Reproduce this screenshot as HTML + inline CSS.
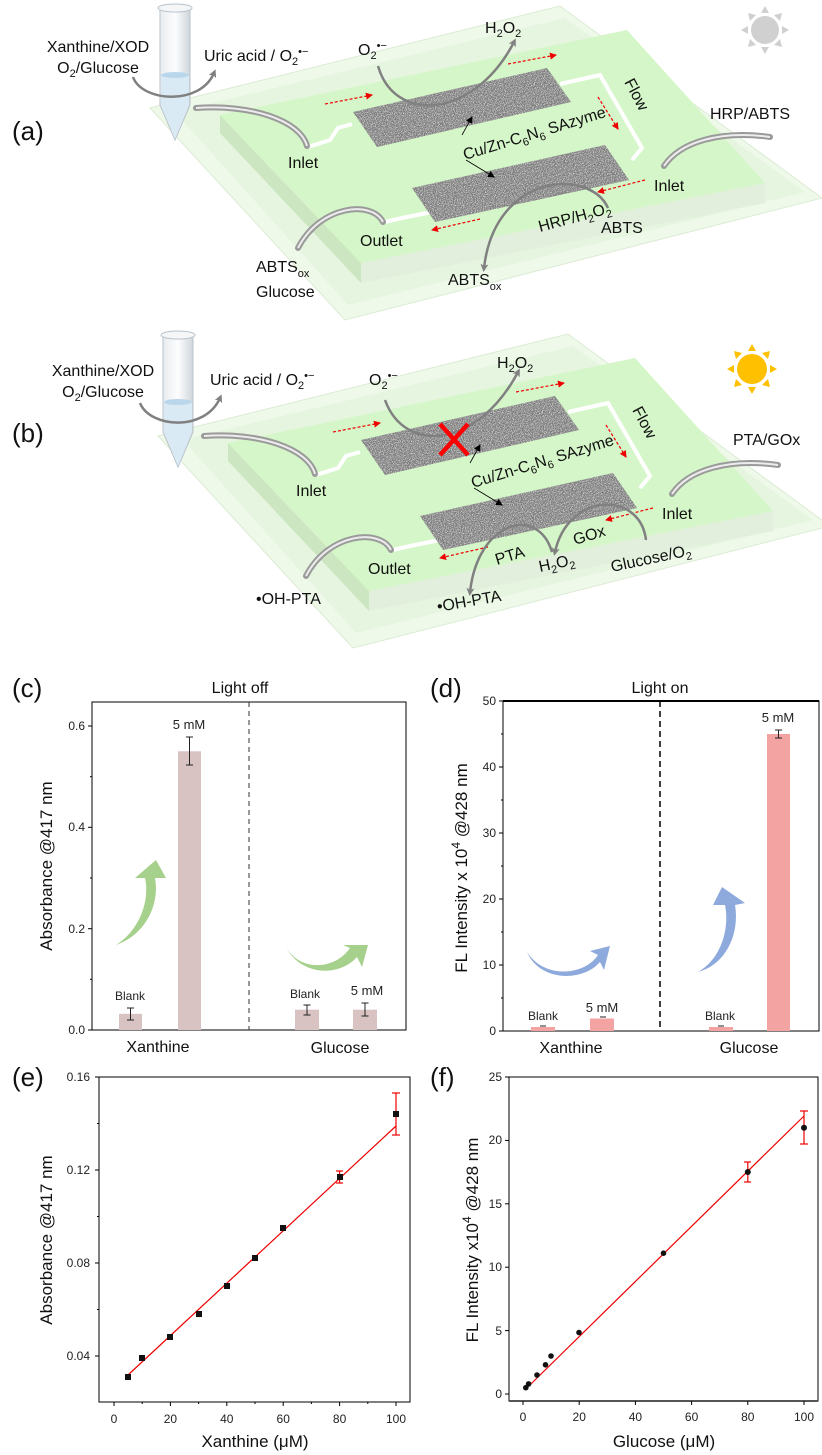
<!DOCTYPE html>
<html><head><meta charset="utf-8">
<style>
html,body{margin:0;padding:0;background:#fff;}
svg{display:block;font-family:"Liberation Sans",Arial,sans-serif;}
.l{font-size:16px;fill:#111;}
.t{font-size:12px;fill:#222;}
.ax{font-size:17px;fill:#111;}
</style></head><body>
<svg width="822" height="1455" viewBox="0 0 822 1455" xmlns="http://www.w3.org/2000/svg">
<defs>
<filter id="nz" x="0" y="0" width="1" height="1" filterUnits="objectBoundingBox">
<feTurbulence type="fractalNoise" baseFrequency="1.1" numOctaves="2" seed="3" result="n"/>
<feColorMatrix in="n" type="matrix" values="0 0 0 0 1  0 0 0 0 1  0 0 0 0 1  2.2 0 0 0 -0.9"/>
</filter>
<clipPath id="s1"><polygon points="353,112 547,68 571,102 377,147"/></clipPath>
<clipPath id="s2"><polygon points="412,188 605,145 629,180 435,222"/></clipPath>
<marker id="ga" markerWidth="8" markerHeight="8" refX="4" refY="4" orient="auto" markerUnits="userSpaceOnUse" viewBox="0 0 8 8"><path d="M0,0 L8,4 L0,8 L2,4z" fill="#808080"/></marker>
<marker id="ra" markerWidth="7" markerHeight="7" refX="6" refY="3.5" orient="auto" markerUnits="userSpaceOnUse"><path d="M0,0 L7,3.5 L0,7z" fill="#e00"/></marker>
<marker id="ka" markerWidth="7" markerHeight="7" refX="6" refY="3.5" orient="auto" markerUnits="userSpaceOnUse"><path d="M0,0 L7,3.5 L0,7z" fill="#000"/></marker>
<linearGradient id="tg" x1="0" x2="1"><stop offset="0" stop-color="#e8ecef"/><stop offset="0.5" stop-color="#fdfdfe"/><stop offset="1" stop-color="#cfd6dc"/></linearGradient>
<g id="chip">
<polygon points="150,108 560,6 822,198 345,320" fill="#eef9ea" stroke="#dcebd4"/>
<polygon points="175,112 565,18 805,192 348,305" fill="#e6f5df"/>
<polygon points="220,115 361,263 361,283 220,133" fill="#cde6c2"/>
<polygon points="361,263 765,183 765,203 361,283" fill="#e2efdc"/>
<polygon points="220,115 627,30 765,183 361,263" fill="#d5f6c8"/>
<polyline points="308,147 330,140 338,128 352,124" fill="none" stroke="#fff" stroke-width="4"/>
<polyline points="560,84 600,75 642,148 632,160" fill="none" stroke="#fff" stroke-width="4"/>
<polyline points="432,212 402,218 385,222" fill="none" stroke="#fff" stroke-width="4"/>
<g clip-path="url(#s1)"><rect x="350" y="65" width="225" height="85" fill="#777"/><rect x="350" y="65" width="225" height="85" fill="#fff" filter="url(#nz)"/></g>
<g clip-path="url(#s2)"><rect x="410" y="142" width="222" height="83" fill="#777"/><rect x="410" y="142" width="222" height="83" fill="#fff" filter="url(#nz)"/></g>
<path d="M196,108 C250,104 300,120 307,146" fill="none" stroke="#9a9a9a" stroke-width="6" stroke-linecap="round"/>
<path d="M196,108 C250,104 300,120 307,146" fill="none" stroke="#ececec" stroke-width="2"/>
<path d="M770,137 C720,130 680,142 664,166" fill="none" stroke="#9a9a9a" stroke-width="6" stroke-linecap="round"/>
<path d="M770,137 C720,130 680,142 664,166" fill="none" stroke="#ececec" stroke-width="2"/>
<path d="M383,222 C372,200 320,205 298,248" fill="none" stroke="#9a9a9a" stroke-width="6" stroke-linecap="round"/>
<path d="M383,222 C372,200 320,205 298,248" fill="none" stroke="#ececec" stroke-width="2"/>
<g stroke="#e00" stroke-width="1.2" stroke-dasharray="3,2" fill="none">
<line x1="325" y1="104" x2="372" y2="95" marker-end="url(#ra)"/>
<line x1="508" y1="64" x2="556" y2="55" marker-end="url(#ra)"/>
<line x1="598" y1="97" x2="618" y2="129" marker-end="url(#ra)"/>
<line x1="645" y1="180" x2="598" y2="192" marker-end="url(#ra)"/>
<line x1="480" y1="219" x2="432" y2="230" marker-end="url(#ra)"/>
</g>
<line x1="462" y1="135" x2="472" y2="117" stroke="#000" stroke-width="0.8" marker-end="url(#ka)"/>
<line x1="466" y1="160" x2="494" y2="177" stroke="#000" stroke-width="0.8" marker-end="url(#ka)"/>
<text class="l" transform="translate(465,160) rotate(-17)">Cu/Zn-C<tspan font-size="11" dy="4">6</tspan><tspan dy="-4">N</tspan><tspan font-size="11" dy="4">6</tspan><tspan dy="-4"> SAzyme</tspan></text>
<text class="l" transform="translate(624,82) rotate(62)">Flow</text>
<text class="l" x="288" y="168">Inlet</text>
<text class="l" x="654" y="191">Inlet</text>
<text class="l" x="360" y="246" font-size="15">Outlet</text>
</g>
<g id="tube">
<path d="M160,8 L160,105 L175,140 L190,105 L190,8 Z" fill="url(#tg)" stroke="#b9c3cb" stroke-width="1"/>
<path d="M161,75 L161,105 L175,139 L189,105 L189,75 Z" fill="#d9eaf5"/>
<ellipse cx="175" cy="75" rx="14" ry="3" fill="#b9d6ea"/>
<ellipse cx="175" cy="8" rx="17" ry="4" fill="#f4f6f8" stroke="#b9c3cb"/>
</g>
</defs>

<!-- Panel a -->
<use href="#chip"/>
<use href="#tube"/>
<text x="12" y="140" font-size="26" fill="#111">(a)</text>
<text class="l" x="98" y="52" text-anchor="middle">Xanthine/XOD</text>
<text class="l" x="98" y="73" text-anchor="middle">O<tspan font-size="11" dy="4">2</tspan><tspan dy="-4">/Glucose</tspan></text>
<text class="l" x="204" y="61">Uric acid / O<tspan font-size="11" dy="4">2</tspan><tspan font-size="11" dy="-10">•−</tspan></text>
<text class="l" x="358" y="55">O<tspan font-size="11" dy="4">2</tspan><tspan font-size="11" dy="-10">•−</tspan></text>
<text class="l" x="485" y="33">H<tspan font-size="11" dy="4">2</tspan><tspan dy="-4">O</tspan><tspan font-size="11" dy="4">2</tspan></text>
<text class="l" x="710" y="119">HRP/ABTS</text>
<text class="l" x="540" y="232" transform="rotate(-15 540 232)">HRP/H<tspan font-size="11" dy="4">2</tspan><tspan dy="-4">O</tspan><tspan font-size="11" dy="4">2</tspan></text>
<text class="l" x="601" y="233">ABTS</text>
<text class="l" x="256" y="272">ABTS<tspan font-size="11" dy="5">ox</tspan></text>
<text class="l" x="256" y="297">Glucose</text>
<text class="l" x="448" y="285">ABTS<tspan font-size="11" dy="5">ox</tspan></text>
<path d="M133,77 C142,102 200,106 214,73" fill="none" stroke="#808080" stroke-width="2.5" marker-end="url(#ga)"/>
<path d="M378,66 C395,125 475,118 514,42" fill="none" stroke="#808080" stroke-width="2.5" marker-end="url(#ga)"/>
<path d="M608,208 C590,168 495,172 484,268" fill="none" stroke="#808080" stroke-width="2.5" marker-end="url(#ga)"/>
<g fill="#d0d0d0">
<circle cx="765" cy="30" r="14"/>
<polygon points="765,6 761,13 769,13"/><polygon points="765,54 761,47 769,47"/>
<polygon points="741,30 748,26 748,34"/><polygon points="789,30 782,26 782,34"/>
<polygon points="748,13 756,15 750,21"/><polygon points="782,13 774,15 780,21"/>
<polygon points="748,47 756,45 750,39"/><polygon points="782,47 774,45 780,39"/>
</g>

<!-- Panel b -->
<g transform="translate(8,328)"><use href="#chip"/></g>
<g transform="translate(3,327)"><use href="#tube"/></g>
<text x="12" y="442" font-size="26" fill="#111">(b)</text>
<text class="l" x="103" y="376" text-anchor="middle">Xanthine/XOD</text>
<text class="l" x="103" y="397" text-anchor="middle">O<tspan font-size="11" dy="4">2</tspan><tspan dy="-4">/Glucose</tspan></text>
<text class="l" x="210" y="385">Uric acid / O<tspan font-size="11" dy="4">2</tspan><tspan font-size="11" dy="-10">•−</tspan></text>
<text class="l" x="369" y="385">O<tspan font-size="11" dy="4">2</tspan><tspan font-size="11" dy="-10">•−</tspan></text>
<text class="l" x="497" y="368">H<tspan font-size="11" dy="4">2</tspan><tspan dy="-4">O</tspan><tspan font-size="11" dy="4">2</tspan></text>
<text class="l" x="733" y="445">PTA/GOx</text>
<text class="l" x="575" y="545" transform="rotate(-17 575 545)">GOx</text>
<text class="l" x="497" y="565" transform="rotate(-17 497 565)">PTA</text>
<text class="l" x="540" y="572" transform="rotate(-12 540 572)">H<tspan font-size="11" dy="4">2</tspan><tspan dy="-4">O</tspan><tspan font-size="11" dy="4">2</tspan></text>
<text class="l" x="612" y="572" transform="rotate(-12 612 572)">Glucose/O<tspan font-size="11" dy="4">2</tspan></text>
<text class="l" x="256" y="604">•OH-PTA</text>
<text class="l" x="438" y="612" transform="rotate(-10 438 612)">•OH-PTA</text>
<path d="M140,403 C150,428 205,432 220,398" fill="none" stroke="#808080" stroke-width="2.5" marker-end="url(#ga)"/>
<path d="M385,400 C405,455 478,448 518,372" fill="none" stroke="#808080" stroke-width="2.5" marker-end="url(#ga)"/>
<path d="M646,540 C640,490 568,492 555,552" fill="none" stroke="#808080" stroke-width="2.5" marker-end="url(#ga)"/>
<path d="M552,552 C538,505 478,520 470,592" fill="none" stroke="#808080" stroke-width="2.5" marker-end="url(#ga)"/>
<g stroke="#f00" stroke-width="4.5" stroke-linecap="butt"><line x1="440" y1="424" x2="468" y2="455"/><line x1="468" y1="424" x2="440" y2="455"/></g>
<g fill="#ffc000">
<circle cx="752" cy="369" r="15"/>
<polygon points="752,344 748,351 756,351"/><polygon points="752,394 748,387 756,387"/>
<polygon points="727,369 734,365 734,373"/><polygon points="777,369 770,365 770,373"/>
<polygon points="734,351 742,353 736,359"/><polygon points="770,351 762,353 768,359"/>
<polygon points="734,387 742,385 736,379"/><polygon points="770,387 762,385 768,379"/>
</g>

<!-- Panel c -->
<text x="12" y="697" font-size="26" fill="#111">(c)</text>
<text class="l" x="240" y="693" text-anchor="middle">Light off</text>
<rect x="92" y="702" width="314" height="328" fill="none" stroke="#000" stroke-width="1"/>
<line x1="249" y1="702" x2="249" y2="1030" stroke="#333" stroke-dasharray="5,4"/>
<g stroke="#000">
<line x1="92" y1="1030" x2="88" y2="1030"/><line x1="92" y1="928.7" x2="88" y2="928.7"/><line x1="92" y1="827.3" x2="88" y2="827.3"/><line x1="92" y1="726" x2="88" y2="726"/>
<line x1="92" y1="979.3" x2="90" y2="979.3"/><line x1="92" y1="878" x2="90" y2="878"/><line x1="92" y1="776.7" x2="90" y2="776.7"/>
</g>
<g class="t" text-anchor="end"><text x="85" y="1034">0.0</text><text x="85" y="933">0.2</text><text x="85" y="831">0.4</text><text x="85" y="730">0.6</text></g>
<text class="ax" transform="translate(52,866) rotate(-90)" text-anchor="middle">Absorbance @417 nm</text>
<g fill="#d8c2c2">
<rect x="119" y="1013.8" width="23" height="16.2"/><rect x="178" y="751.3" width="23" height="278.7"/>
<rect x="295" y="1009.7" width="24" height="20.3"/><rect x="353" y="1009.7" width="24" height="20.3"/>
</g>
<g stroke="#222" stroke-width="1">
<line x1="130.5" y1="1008" x2="130.5" y2="1020"/><line x1="127" y1="1008" x2="134" y2="1008"/><line x1="127" y1="1020" x2="134" y2="1020"/>
<line x1="189.5" y1="737" x2="189.5" y2="765"/><line x1="186" y1="737" x2="193" y2="737"/><line x1="186" y1="765" x2="193" y2="765"/>
<line x1="307" y1="1005" x2="307" y2="1015"/><line x1="303.5" y1="1005" x2="310.5" y2="1005"/><line x1="303.5" y1="1015" x2="310.5" y2="1015"/>
<line x1="365" y1="1003" x2="365" y2="1016"/><line x1="361.5" y1="1003" x2="368.5" y2="1003"/><line x1="361.5" y1="1016" x2="368.5" y2="1016"/>
</g>
<g class="t" text-anchor="middle"><text x="189" y="729" font-size="13">5 mM</text><text x="130" y="1000">Blank</text><text x="305" y="998">Blank</text><text x="367" y="995" font-size="13">5 mM</text></g>
<g class="l" text-anchor="middle"><text x="158" y="1052">Xanthine</text><text x="340" y="1053">Glucose</text></g>
<path d="M116,945 C140,930 150,900 145,878 L135,878 L156,860 L166,878 L155,878 C160,905 145,935 116,945 Z" fill="#a6d18c"/>
<path d="M286,947 C300,972 335,970 350,948 L343,945 L368,945 L362,967 L357,957 C338,978 300,975 286,947 Z" fill="#a6d18c"/>

<!-- Panel d -->
<text x="430" y="697" font-size="26" fill="#111">(d)</text>
<text class="l" x="660" y="693" text-anchor="middle">Light on</text>
<rect x="503" y="701" width="316" height="330" fill="none" stroke="#000" stroke-width="1"/>
<line x1="503" y1="701" x2="819" y2="701" stroke="#000" stroke-width="2"/>
<line x1="660" y1="701" x2="660" y2="1031" stroke="#000" stroke-width="1.5" stroke-dasharray="6,4"/>
<g stroke="#000">
<line x1="503" y1="1031" x2="499" y2="1031"/><line x1="503" y1="965" x2="499" y2="965"/><line x1="503" y1="899" x2="499" y2="899"/><line x1="503" y1="833" x2="499" y2="833"/><line x1="503" y1="767" x2="499" y2="767"/><line x1="503" y1="701" x2="499" y2="701"/>
<line x1="503" y1="998" x2="501" y2="998"/><line x1="503" y1="932" x2="501" y2="932"/><line x1="503" y1="866" x2="501" y2="866"/><line x1="503" y1="800" x2="501" y2="800"/><line x1="503" y1="734" x2="501" y2="734"/>
</g>
<g class="t" text-anchor="end"><text x="496" y="1035">0</text><text x="496" y="969">10</text><text x="496" y="903">20</text><text x="496" y="837">30</text><text x="496" y="771">40</text><text x="496" y="705">50</text></g>
<text class="ax" transform="translate(467,868) rotate(-90)" text-anchor="middle">FL Intensity x 10<tspan font-size="12" dy="-7">4</tspan><tspan dy="7"> @428 nm</tspan></text>
<g fill="#f4a3a3">
<rect x="531" y="1027" width="24" height="4"/><rect x="590" y="1018.5" width="24" height="12.5"/>
<rect x="709" y="1027" width="24" height="4"/><rect x="767" y="734" width="23" height="297"/>
</g>
<g stroke="#222"><line x1="778.5" y1="730" x2="778.5" y2="738"/><line x1="775" y1="730" x2="782" y2="730"/><line x1="775" y1="738" x2="782" y2="738"/>
<line x1="600" y1="1017" x2="606" y2="1017"/><line x1="540" y1="1026" x2="546" y2="1026"/><line x1="718" y1="1026" x2="724" y2="1026"/></g>
<g class="t" text-anchor="middle"><text x="778" y="722" font-size="13">5 mM</text><text x="543" y="1020">Blank</text><text x="602" y="1012" font-size="13">5 mM</text><text x="720" y="1020">Blank</text></g>
<g class="l" text-anchor="middle"><text x="571" y="1053">Xanthine</text><text x="749" y="1053">Glucose</text></g>
<path d="M527,952 C545,980 585,975 598,955 L590,951 L610,946 L604,970 L600,962 C583,982 540,982 527,952 Z" fill="#8eaadc"/>
<path d="M698,972 C720,960 730,930 725,905 L713,905 L722,887 L745,903 L735,905 C740,935 725,965 698,972 Z" fill="#8eaadc"/>

<!-- Panel e -->
<text x="12" y="1086" font-size="26" fill="#111">(e)</text>
<rect x="99" y="1077" width="311" height="325" fill="none" stroke="#000"/>
<g stroke="#000">
<line x1="99" y1="1077" x2="95" y2="1077"/><line x1="99" y1="1170" x2="95" y2="1170"/><line x1="99" y1="1263" x2="95" y2="1263"/><line x1="99" y1="1356" x2="95" y2="1356"/>
<line x1="99" y1="1123.5" x2="97" y2="1123.5"/><line x1="99" y1="1216.5" x2="97" y2="1216.5"/><line x1="99" y1="1309.5" x2="97" y2="1309.5"/>
<line x1="114" y1="1402" x2="114" y2="1406"/><line x1="170.4" y1="1402" x2="170.4" y2="1406"/><line x1="226.8" y1="1402" x2="226.8" y2="1406"/><line x1="283.2" y1="1402" x2="283.2" y2="1406"/><line x1="339.6" y1="1402" x2="339.6" y2="1406"/><line x1="396" y1="1402" x2="396" y2="1406"/>
<line x1="142.2" y1="1402" x2="142.2" y2="1404"/><line x1="198.6" y1="1402" x2="198.6" y2="1404"/><line x1="255" y1="1402" x2="255" y2="1404"/><line x1="311.4" y1="1402" x2="311.4" y2="1404"/><line x1="367.8" y1="1402" x2="367.8" y2="1404"/>
</g>
<g class="t" text-anchor="end"><text x="90" y="1081">0.16</text><text x="90" y="1174">0.12</text><text x="90" y="1267">0.08</text><text x="90" y="1360">0.04</text></g>
<g class="t" text-anchor="middle"><text x="114" y="1423">0</text><text x="170.4" y="1423">20</text><text x="226.8" y="1423">40</text><text x="283.2" y="1423">60</text><text x="339.6" y="1423">80</text><text x="396" y="1423">100</text></g>
<text class="ax" x="255" y="1447" text-anchor="middle">Xanthine (μM)</text>
<text class="ax" transform="translate(52,1240) rotate(-90)" text-anchor="middle">Absorbance @417 nm</text>
<line x1="128" y1="1375" x2="396" y2="1126" stroke="#e00" stroke-width="1.2"/>
<g stroke="#e00" stroke-width="1.2">
<line x1="396" y1="1093" x2="396" y2="1135"/><line x1="392" y1="1093" x2="400" y2="1093"/><line x1="392" y1="1135" x2="400" y2="1135"/>
<line x1="339.6" y1="1171" x2="339.6" y2="1183"/><line x1="336" y1="1171" x2="343" y2="1171"/><line x1="336" y1="1183" x2="343" y2="1183"/>
</g>
<g fill="#111">
<rect x="125" y="1374" width="6" height="6"/><rect x="139" y="1355" width="6" height="6"/><rect x="167" y="1334" width="6" height="6"/>
<rect x="196" y="1311" width="6" height="6"/><rect x="224" y="1283" width="6" height="6"/><rect x="252" y="1255" width="6" height="6"/>
<rect x="280" y="1225" width="6" height="6"/><rect x="337" y="1174" width="6" height="6"/><rect x="393" y="1111" width="6" height="6"/>
</g>

<!-- Panel f -->
<text x="430" y="1086" font-size="26" fill="#111">(f)</text>
<rect x="509" y="1077" width="309" height="324" fill="none" stroke="#000"/>
<line x1="509" y1="1401" x2="818" y2="1401" stroke="#555" stroke-width="2"/>
<g stroke="#000">
<line x1="509" y1="1394" x2="505" y2="1394"/><line x1="509" y1="1330.6" x2="505" y2="1330.6"/><line x1="509" y1="1267.2" x2="505" y2="1267.2"/><line x1="509" y1="1203.8" x2="505" y2="1203.8"/><line x1="509" y1="1140.4" x2="505" y2="1140.4"/><line x1="509" y1="1077" x2="505" y2="1077"/>
<line x1="523" y1="1401" x2="523" y2="1405"/><line x1="579.2" y1="1401" x2="579.2" y2="1405"/><line x1="635.4" y1="1401" x2="635.4" y2="1405"/><line x1="691.6" y1="1401" x2="691.6" y2="1405"/><line x1="747.8" y1="1401" x2="747.8" y2="1405"/><line x1="804" y1="1401" x2="804" y2="1405"/>
</g>
<g class="t" text-anchor="end"><text x="502" y="1398">0</text><text x="502" y="1335">5</text><text x="502" y="1271">10</text><text x="502" y="1208">15</text><text x="502" y="1144">20</text><text x="502" y="1081">25</text></g>
<g class="t" text-anchor="middle"><text x="523" y="1421">0</text><text x="579.2" y="1421">20</text><text x="635.4" y="1421">40</text><text x="691.6" y="1421">60</text><text x="747.8" y="1421">80</text><text x="804" y="1421">100</text></g>
<text class="ax" x="664" y="1447" text-anchor="middle">Glucose (μM)</text>
<text class="ax" transform="translate(478,1240) rotate(-90)" text-anchor="middle">FL Intensity x10<tspan font-size="12" dy="-7">4</tspan><tspan dy="7"> @428 nm</tspan></text>
<line x1="525.8" y1="1389" x2="804" y2="1116" stroke="#e00" stroke-width="1.2"/>
<g stroke="#e00" stroke-width="1.2">
<line x1="804" y1="1111" x2="804" y2="1144"/><line x1="800" y1="1111" x2="808" y2="1111"/><line x1="800" y1="1144" x2="808" y2="1144"/>
<line x1="747.8" y1="1162" x2="747.8" y2="1182"/><line x1="744" y1="1162" x2="751" y2="1162"/><line x1="744" y1="1182" x2="751" y2="1182"/>
</g>
<g fill="#111">
<circle cx="525.8" cy="1387.7" r="2.8"/><circle cx="528.6" cy="1383.9" r="2.8"/><circle cx="537" cy="1375" r="2.8"/><circle cx="545.5" cy="1364.8" r="2.8"/>
<circle cx="551" cy="1356" r="2.8"/><circle cx="579" cy="1332.5" r="2.8"/><circle cx="663.5" cy="1253.2" r="2.8"/><circle cx="747.8" cy="1172" r="3"/><circle cx="804" cy="1127.7" r="3"/>
</g>
</svg>
</body></html>
